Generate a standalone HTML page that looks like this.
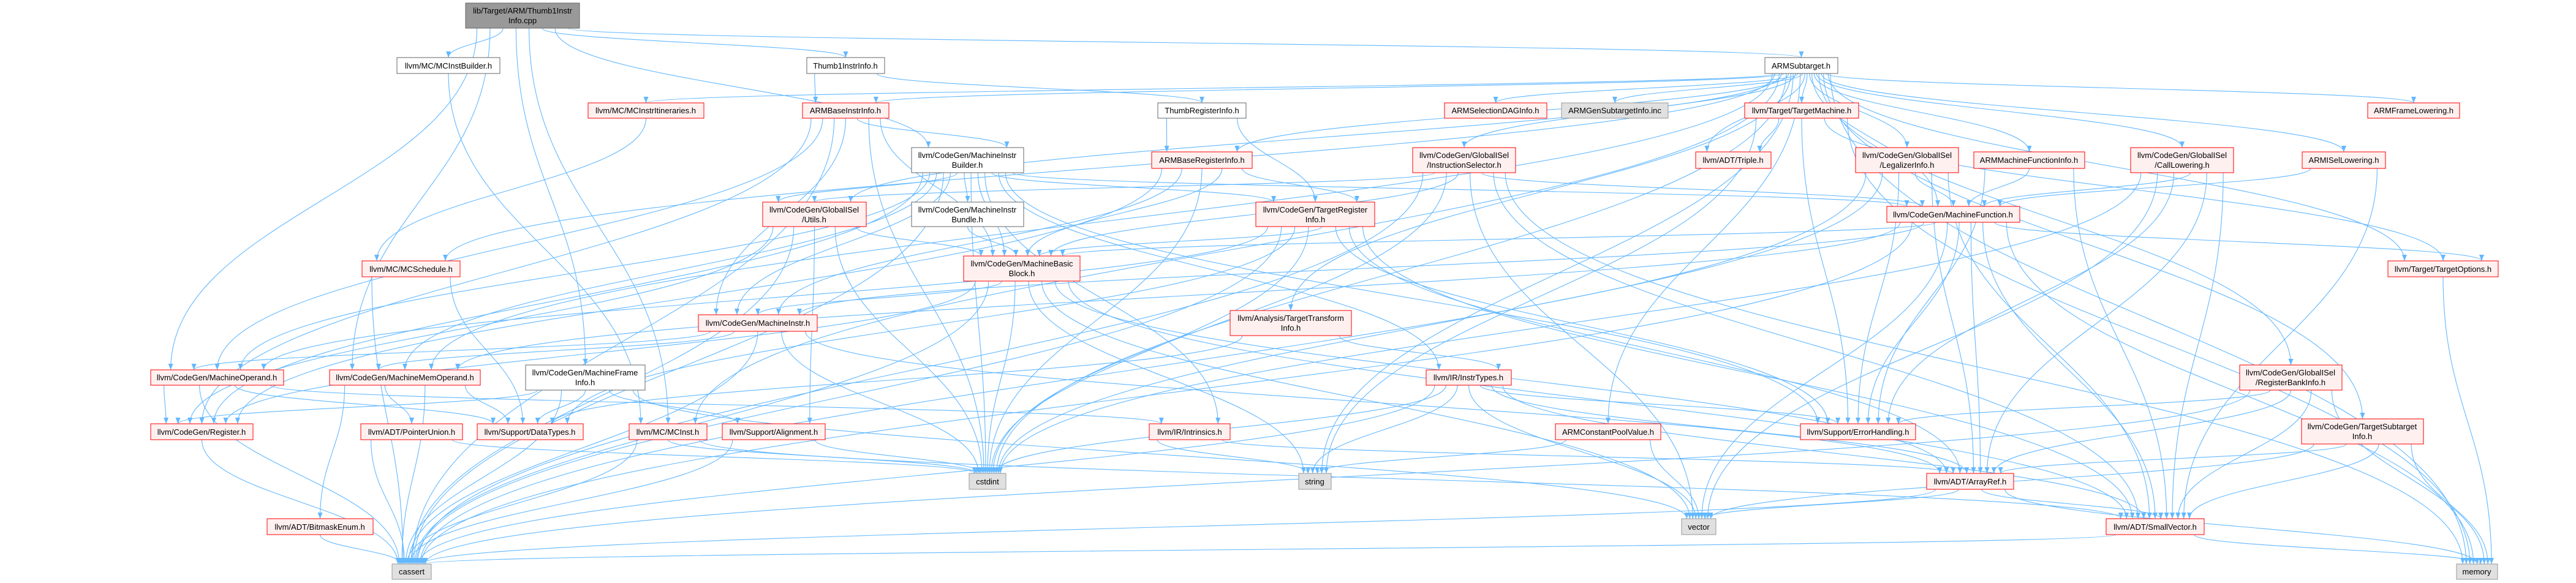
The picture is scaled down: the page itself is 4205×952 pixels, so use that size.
<!DOCTYPE html>
<html><head><meta charset="utf-8">
<style>
html,body{margin:0;padding:0;background:#fff;}
svg{display:block;}
text{font-family:"Liberation Sans",Helvetica,Arial,sans-serif;font-size:13px;fill:#000;}
</style></head>
<body>
<svg id="g" xmlns="http://www.w3.org/2000/svg" width="4205" height="952" viewBox="0 0 4205 952">
<defs>
<marker id="ah" viewBox="0 0 10 10" refX="10" refY="5" markerWidth="10" markerHeight="10" markerUnits="userSpaceOnUse" orient="auto">
<path d="M0,1 L10,5 L0,9 z" fill="#63b8ff"/>
</marker>
</defs>
<g id="edges" fill="none" stroke="#63b8ff" stroke-width="1.1"></g>
<g id="nodes">
<rect x="760" y="5" width="186" height="41" fill="#999999" stroke="#666666"/><text x="853" y="22" text-anchor="middle">lib/Target/ARM/Thumb1Instr</text><text x="853" y="38" text-anchor="middle">Info.cpp</text>
<rect x="648" y="94" width="168" height="26" fill="#fff" stroke="#666"/><text x="732" y="112" text-anchor="middle">llvm/MC/MCInstBuilder.h</text>
<rect x="1317" y="94" width="127" height="26" fill="#fff" stroke="#666"/><text x="1380" y="112" text-anchor="middle">Thumb1InstrInfo.h</text>
<rect x="2881" y="94" width="119" height="26" fill="#fff" stroke="#666"/><text x="2940" y="112" text-anchor="middle">ARMSubtarget.h</text>
<rect x="960" y="168" width="189" height="25" fill="#fff0f0" stroke="#ff0000"/><text x="1054" y="185" text-anchor="middle">llvm/MC/MCInstrItineraries.h</text>
<rect x="1310" y="168" width="141" height="25" fill="#fff0f0" stroke="#ff0000"/><text x="1380" y="185" text-anchor="middle">ARMBaseInstrInfo.h</text>
<rect x="1890" y="168" width="144" height="25" fill="#fff" stroke="#666"/><text x="1962" y="185" text-anchor="middle">ThumbRegisterInfo.h</text>
<rect x="2358" y="168" width="167" height="25" fill="#fff0f0" stroke="#ff0000"/><text x="2441" y="185" text-anchor="middle">ARMSelectionDAGInfo.h</text>
<rect x="2549" y="168" width="174" height="25" fill="#e0e0e0" stroke="#999"/><text x="2636" y="185" text-anchor="middle">ARMGenSubtargetInfo.inc</text>
<rect x="2848" y="168" width="186" height="25" fill="#fff0f0" stroke="#ff0000"/><text x="2941" y="185" text-anchor="middle">llvm/Target/TargetMachine.h</text>
<rect x="3865" y="168" width="150" height="25" fill="#fff0f0" stroke="#ff0000"/><text x="3940" y="185" text-anchor="middle">ARMFrameLowering.h</text>
<rect x="1488" y="241" width="183" height="41" fill="#fff" stroke="#666"/><text x="1579" y="258" text-anchor="middle">llvm/CodeGen/MachineInstr</text><text x="1579" y="274" text-anchor="middle">Builder.h</text>
<rect x="1880" y="248" width="164" height="27" fill="#fff0f0" stroke="#ff0000"/><text x="1962" y="266" text-anchor="middle">ARMBaseRegisterInfo.h</text>
<rect x="2306" y="241" width="168" height="41" fill="#fff0f0" stroke="#ff0000"/><text x="2390" y="258" text-anchor="middle">llvm/CodeGen/GlobalISel</text><text x="2390" y="274" text-anchor="middle">/InstructionSelector.h</text>
<rect x="2768" y="248" width="123" height="27" fill="#fff0f0" stroke="#ff0000"/><text x="2829" y="266" text-anchor="middle">llvm/ADT/Triple.h</text>
<rect x="3029" y="241" width="168" height="41" fill="#fff0f0" stroke="#ff0000"/><text x="3113" y="258" text-anchor="middle">llvm/CodeGen/GlobalISel</text><text x="3113" y="274" text-anchor="middle">/LegalizerInfo.h</text>
<rect x="3222" y="248" width="181" height="27" fill="#fff0f0" stroke="#ff0000"/><text x="3312" y="266" text-anchor="middle">ARMMachineFunctionInfo.h</text>
<rect x="3478" y="241" width="168" height="41" fill="#fff0f0" stroke="#ff0000"/><text x="3562" y="258" text-anchor="middle">llvm/CodeGen/GlobalISel</text><text x="3562" y="274" text-anchor="middle">/CallLowering.h</text>
<rect x="3758" y="248" width="136" height="27" fill="#fff0f0" stroke="#ff0000"/><text x="3826" y="266" text-anchor="middle">ARMISelLowering.h</text>
<rect x="1245" y="330" width="169" height="40" fill="#fff0f0" stroke="#ff0000"/><text x="1329" y="347" text-anchor="middle">llvm/CodeGen/GlobalISel</text><text x="1329" y="363" text-anchor="middle">/Utils.h</text>
<rect x="1488" y="330" width="183" height="40" fill="#fff" stroke="#666"/><text x="1579" y="347" text-anchor="middle">llvm/CodeGen/MachineInstr</text><text x="1579" y="363" text-anchor="middle">Bundle.h</text>
<rect x="2050" y="330" width="194" height="40" fill="#fff0f0" stroke="#ff0000"/><text x="2147" y="347" text-anchor="middle">llvm/CodeGen/TargetRegister</text><text x="2147" y="363" text-anchor="middle">Info.h</text>
<rect x="3080" y="337" width="217" height="26" fill="#fff0f0" stroke="#ff0000"/><text x="3188" y="355" text-anchor="middle">llvm/CodeGen/MachineFunction.h</text>
<rect x="591" y="426" width="160" height="26" fill="#fff0f0" stroke="#ff0000"/><text x="671" y="444" text-anchor="middle">llvm/MC/MCSchedule.h</text>
<rect x="1573" y="418" width="190" height="41" fill="#fff0f0" stroke="#ff0000"/><text x="1668" y="435" text-anchor="middle">llvm/CodeGen/MachineBasic</text><text x="1668" y="451" text-anchor="middle">Block.h</text>
<rect x="3898" y="426" width="180" height="26" fill="#fff0f0" stroke="#ff0000"/><text x="3988" y="444" text-anchor="middle">llvm/Target/TargetOptions.h</text>
<rect x="1140" y="514" width="194" height="27" fill="#fff0f0" stroke="#ff0000"/><text x="1237" y="532" text-anchor="middle">llvm/CodeGen/MachineInstr.h</text>
<rect x="2008" y="507" width="198" height="41" fill="#fff0f0" stroke="#ff0000"/><text x="2107" y="524" text-anchor="middle">llvm/Analysis/TargetTransform</text><text x="2107" y="540" text-anchor="middle">Info.h</text>
<rect x="3656" y="596" width="167" height="41" fill="#fff0f0" stroke="#ff0000"/><text x="3739" y="613" text-anchor="middle">llvm/CodeGen/GlobalISel</text><text x="3739" y="629" text-anchor="middle">/RegisterBankInfo.h</text>
<rect x="246" y="604" width="217" height="25" fill="#fff0f0" stroke="#ff0000"/><text x="354" y="621" text-anchor="middle">llvm/CodeGen/MachineOperand.h</text>
<rect x="538" y="604" width="246" height="25" fill="#fff0f0" stroke="#ff0000"/><text x="661" y="621" text-anchor="middle">llvm/CodeGen/MachineMemOperand.h</text>
<rect x="858" y="596" width="195" height="41" fill="#fff" stroke="#666"/><text x="955" y="613" text-anchor="middle">llvm/CodeGen/MachineFrame</text><text x="955" y="629" text-anchor="middle">Info.h</text>
<rect x="2328" y="604" width="139" height="25" fill="#fff0f0" stroke="#ff0000"/><text x="2397" y="621" text-anchor="middle">llvm/IR/InstrTypes.h</text>
<rect x="3757" y="684" width="199" height="41" fill="#fff0f0" stroke="#ff0000"/><text x="3856" y="701" text-anchor="middle">llvm/CodeGen/TargetSubtarget</text><text x="3856" y="717" text-anchor="middle">Info.h</text>
<rect x="246" y="692" width="167" height="26" fill="#fff0f0" stroke="#ff0000"/><text x="329" y="710" text-anchor="middle">llvm/CodeGen/Register.h</text>
<rect x="589" y="692" width="166" height="26" fill="#fff0f0" stroke="#ff0000"/><text x="672" y="710" text-anchor="middle">llvm/ADT/PointerUnion.h</text>
<rect x="779" y="692" width="173" height="26" fill="#fff0f0" stroke="#ff0000"/><text x="865" y="710" text-anchor="middle">llvm/Support/DataTypes.h</text>
<rect x="1027" y="692" width="127" height="26" fill="#fff0f0" stroke="#ff0000"/><text x="1090" y="710" text-anchor="middle">llvm/MC/MCInst.h</text>
<rect x="1179" y="692" width="168" height="26" fill="#fff0f0" stroke="#ff0000"/><text x="1263" y="710" text-anchor="middle">llvm/Support/Alignment.h</text>
<rect x="1876" y="692" width="132" height="26" fill="#fff0f0" stroke="#ff0000"/><text x="1942" y="710" text-anchor="middle">llvm/IR/Intrinsics.h</text>
<rect x="2539" y="692" width="172" height="26" fill="#fff0f0" stroke="#ff0000"/><text x="2625" y="710" text-anchor="middle">ARMConstantPoolValue.h</text>
<rect x="2939" y="692" width="188" height="26" fill="#fff0f0" stroke="#ff0000"/><text x="3033" y="710" text-anchor="middle">llvm/Support/ErrorHandling.h</text>
<rect x="1582" y="773" width="60" height="26" fill="#e0e0e0" stroke="#999"/><text x="1612" y="791" text-anchor="middle">cstdint</text>
<rect x="2120" y="773" width="53" height="26" fill="#e0e0e0" stroke="#999"/><text x="2146" y="791" text-anchor="middle">string</text>
<rect x="3145" y="773" width="142" height="26" fill="#fff0f0" stroke="#ff0000"/><text x="3216" y="791" text-anchor="middle">llvm/ADT/ArrayRef.h</text>
<rect x="436" y="847" width="173" height="26" fill="#fff0f0" stroke="#ff0000"/><text x="522" y="865" text-anchor="middle">llvm/ADT/BitmaskEnum.h</text>
<rect x="2745" y="847" width="56" height="26" fill="#e0e0e0" stroke="#999"/><text x="2773" y="865" text-anchor="middle">vector</text>
<rect x="3438" y="847" width="160" height="26" fill="#fff0f0" stroke="#ff0000"/><text x="3518" y="865" text-anchor="middle">llvm/ADT/SmallVector.h</text>
<rect x="640" y="921" width="64" height="25" fill="#e0e0e0" stroke="#999"/><text x="672" y="938" text-anchor="middle">cassert</text>
<rect x="4010" y="921" width="67" height="25" fill="#e0e0e0" stroke="#999"/><text x="4043" y="938" text-anchor="middle">memory</text>
</g>
</svg>
<script>
var N={
root:[760,946,5,46],MCIB:[648,816,94,120],T1II:[1317,1444,94,120],SUB:[2881,3000,94,120],
ITIN:[960,1149,168,193],BII:[1310,1451,168,193],TRI_T:[1890,2034,168,193],SDAG:[2358,2525,168,193],
GEN:[2549,2723,168,193],TM:[2848,3034,168,193],FL:[3865,4015,168,193],
MIB:[1488,1671,241,282],BRI:[1880,2044,248,275],IS:[2306,2474,241,282],TRIP:[2768,2891,248,275],
LI:[3029,3197,241,282],AMFI:[3222,3403,248,275],CL:[3478,3646,241,282],ISL:[3758,3894,248,275],
UT:[1245,1414,330,370],MIBU:[1488,1671,330,370],TRI:[2050,2244,330,370],MF:[3080,3297,337,363],
MCS:[591,751,426,452],MBB:[1573,1763,418,459],TO:[3898,4078,426,452],MI:[1140,1334,514,541],
TTI:[2008,2206,507,548],RBI:[3656,3823,596,637],MO:[246,463,604,629],MMO:[538,784,604,629],
MFI:[858,1053,596,637],IT:[2328,2467,604,629],TSI:[3757,3956,684,725],REG:[246,413,692,718],
PU:[589,755,692,718],DT:[779,952,692,718],MCI:[1027,1154,692,718],AL:[1179,1347,692,718],
INT:[1876,2008,692,718],CPV:[2539,2711,692,718],EH:[2939,3127,692,718],CSI:[1582,1642,773,799],
STR:[2120,2173,773,799],AR:[3145,3287,773,799],BE:[436,609,847,873],VEC:[2745,2801,847,873],
SV:[3438,3598,847,873],CA:[640,704,921,946],MEM:[4010,4077,921,946]};
var E="root>MCIB root>T1II root>SUB root>MIB root>MMO root>MFI root>MCI root>MO "+
"MCIB>MCI T1II>BII T1II>TRI_T TRI_T>BRI TRI_T>TRI "+
"BII>MIB BII>MBB BII>MI BII>MO BII>CSI BII>CA BII>REG "+
"MIB>UT MIB>MIBU MIB>MBB MIB>MI MIB>MO MIB>MF MIB>TRI MIB>IT MIB>INT MIB>EH MIB>CA MIB>CSI MIB>MMO MIB>REG "+
"BRI>MBB BRI>TRI BRI>CSI BRI>MI BRI>REG "+
"UT>MBB UT>REG UT>AL UT>CSI UT>CA "+
"MIBU>MBB MBB>MI MBB>CA MBB>CSI MBB>STR MBB>VEC MBB>SV MBB>AR MBB>REG "+
"TRI>MBB TRI>AR TRI>SV TRI>EH TRI>CA TRI>CSI TRI>DT TRI>MO "+
"SUB>ITIN SUB>BII SUB>BRI SUB>SDAG SUB>GEN SUB>TM SUB>TRIP SUB>IS SUB>LI SUB>AMFI SUB>CL SUB>ISL SUB>FL SUB>TO SUB>RBI SUB>TSI SUB>MCS SUB>MF SUB>TTI SUB>CPV SUB>STR SUB>MEM SUB>UT SUB>CSI SUB>MCI SUB>MMO "+
"TM>TRIP TM>TO TM>EH TM>MEM TM>STR "+
"IS>MF IS>CSI IS>VEC IS>SV IS>MBB IS>UT IS>CA IS>MEM "+
"LI>MF LI>CA LI>SV LI>EH LI>CSI LI>AR "+
"MF>MBB MF>MI MF>AR MF>SV MF>TO MF>MEM MF>CA MF>VEC MF>EH MF>MMO "+
"AMFI>MF AMFI>EH AMFI>SV CL>MF CL>AR CL>SV CL>CSI CL>EH CL>VEC ISL>MF ISL>SV "+
"TTI>IT TTI>DT IT>STR IT>VEC IT>CSI IT>CA IT>AR IT>SV IT>EH "+
"CPV>STR CPV>VEC MI>MO MI>MMO MI>CSI MI>AR MI>CA "+
"MO>REG MO>DT MO>CA MO>INT MMO>PU MMO>DT MMO>BE MMO>CA "+
"MFI>REG MFI>DT MFI>AL MFI>CA MFI>VEC REG>CA PU>CA PU>CSI BE>CA MCI>CA MCI>CSI MCI>SV "+
"AL>CA AL>CSI INT>STR INT>AR AR>SV AR>MEM AR>CA AR>VEC SV>CA SV>MEM "+
"RBI>AR RBI>SV RBI>EH RBI>MEM RBI>CA TSI>AR TSI>SV TSI>MEM TSI>VEC TO>MEM MCS>CA MCS>DT ITIN>MCS";
E=E.trim().split(/\s+/).map(function(s){return s.split(">");});
var outs={},ins={};
E.forEach(function(e){(outs[e[0]]=outs[e[0]]||[]).push(e);(ins[e[1]]=ins[e[1]]||[]).push(e);});
function cx(n){return (N[n][0]+N[n][1])/2;}
for(var k in outs)outs[k].sort(function(a,b){return cx(a[1])-cx(b[1]);});
for(var k in ins)ins[k].sort(function(a,b){return cx(a[0])-cx(b[0]);});
var g=document.getElementById("edges"),ns="http://www.w3.org/2000/svg";
E.forEach(function(e){
 var s=N[e[0]],t=N[e[1]];
 var oi=outs[e[0]].indexOf(e),on=outs[e[0]].length;
 var ii=ins[e[1]].indexOf(e),inn=ins[e[1]].length;
 var sw=s[1]-s[0],tw=t[1]-t[0];
 var sx=s[0]+sw*0.1+sw*0.8*(on==1?0.5:oi/(on-1));
 var tx=t[0]+tw*0.15+tw*0.7*(inn==1?0.5:ii/(inn-1));
 var sy=s[3],ty=t[2];
 var dy=Math.max(ty-sy,30);
 var d="M"+sx.toFixed(1)+","+sy+" C"+sx.toFixed(1)+","+(sy+dy*0.45).toFixed(1)+" "+tx.toFixed(1)+","+(ty-dy*0.45).toFixed(1)+" "+tx.toFixed(1)+","+ty;
 var p=document.createElementNS(ns,"path");
 p.setAttribute("d",d);p.setAttribute("marker-end","url(#ah)");
 g.appendChild(p);
});
</script>
</body></html>
